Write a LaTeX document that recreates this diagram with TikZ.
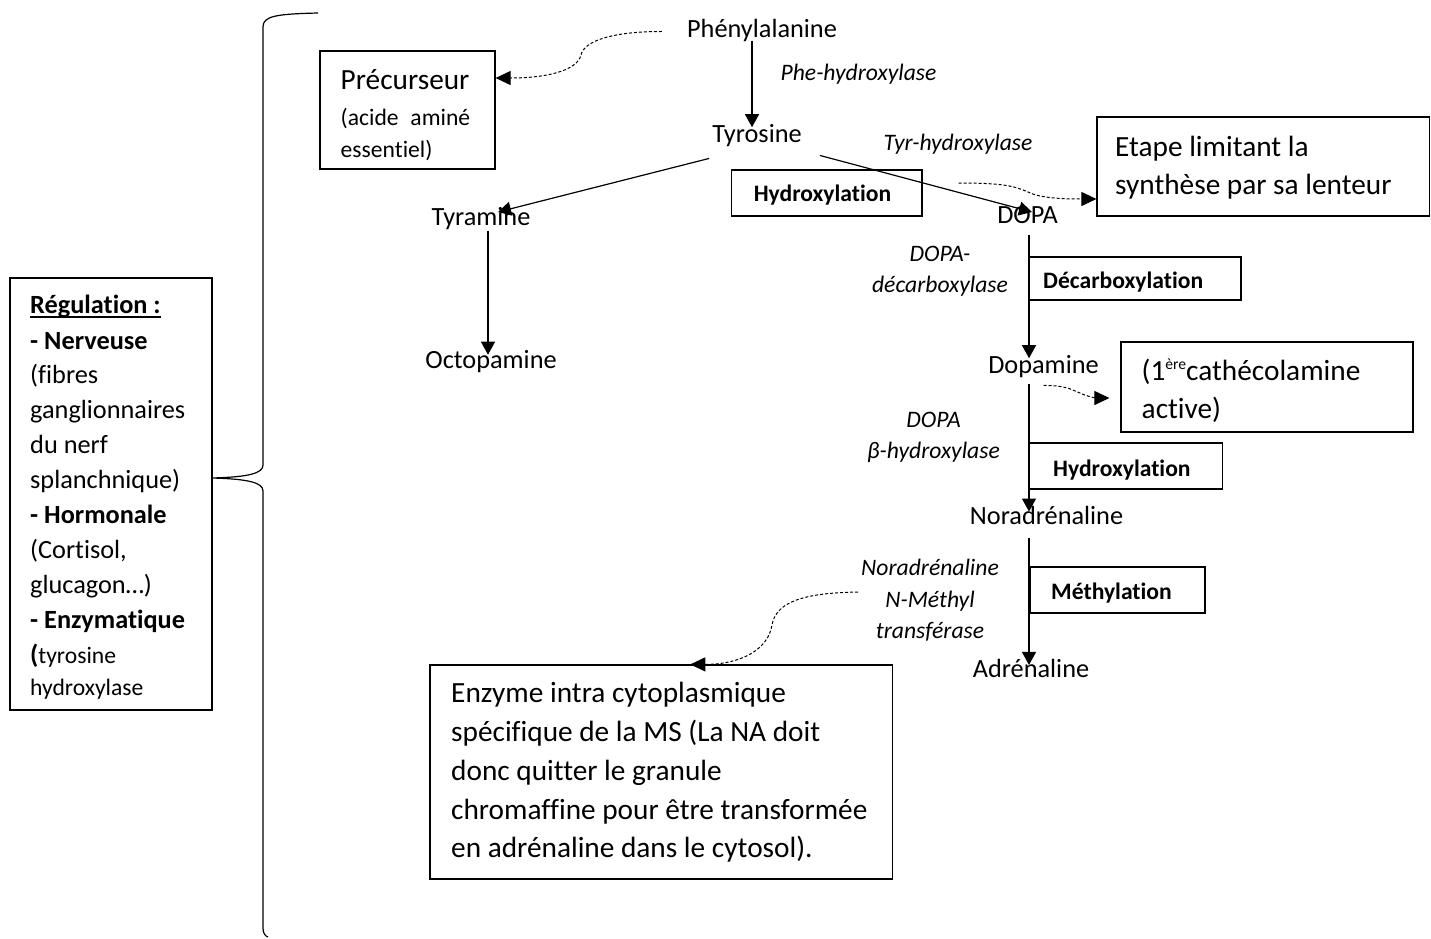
\documentclass[tikz,border=0pt]{standalone}
\usepackage{fontspec}
\setmainfont{Carlito}[Ligatures=NoCommon]
\usetikzlibrary{arrows.meta}

% type sizes
\newcommand\szmain{\fontsize{26.3}{35}\selectfont}
\newcommand\szbig{\fontsize{29.3}{38.7}\selectfont}
\newcommand\szsmall{\fontsize{23.6}{31}\selectfont}
% underlined heading
\newcommand\ulinetxt[1]{\setbox0\hbox{#1}\rlap{\rule[-4.5pt]{\wd0}{1.3pt}}\box0}
% small raised ordinal
\newcommand\ordsup[1]{\raisebox{11pt}{\fontsize{15.6}{16}\selectfont #1}}

\begin{document}
\begin{tikzpicture}[x=1pt,y=-1pt,
  txt/.style={inner sep=0pt, font=\szmain, anchor=base},
  enzlbl/.style={inner sep=0pt, font=\szsmall\itshape, anchor=base},
  steplbl/.style={inner sep=0pt, font=\szsmall\bfseries, anchor=base west},
  boxtxt/.style={inner sep=0pt, anchor=base west},
  box/.style={draw, line width=1.2pt, inner sep=0pt},
  arr/.style={line width=1.2pt, -{Triangle[length=13pt,width=14pt]}},
  darr/.style={line width=1pt, dash pattern=on 3pt off 2pt, -{Triangle[length=15pt,width=14pt]}}]
\useasboundingbox[fill=white] (0,0) rectangle (1431,938);

% ---- compounds of the pathway ----
\node[txt] (phe)   at (762,37)    {Phénylalanine};
\node[txt] (tyr)   at (757,142)   {Tyrosine};
\node[txt] (tyra)  at (481,225)   {Tyramine};
\node[txt] (octo)  at (491,368)   {Octopamine};
\node[txt] (dopa)  at (1027.5,223){DOPA};
\node[txt] (dopam) at (1043.5,373){Dopamine};
\node[txt] (nora)  at (1046.5,524){Noradrénaline};
\node[txt] (adr)   at (1031,677)  {Adrénaline};

% ---- enzymes ----
\node[enzlbl] (phehyd) at (858.5,80) {Phe-hydroxylase};
\node[enzlbl] (tyrhyd) at (958,150)  {Tyr-hydroxylase};
\node[enzlbl] (ddc1)   at (940,261)  {DOPA-};
\node[enzlbl] (ddc2)   at (940,292)  {décarboxylase};
\node[enzlbl] (dbh1)   at (933.5,427){DOPA};
\node[enzlbl] (dbh2)   at (933.5,458){β-hydroxylase};
\node[enzlbl] (pnmt1)  at (930,575)  {Noradrénaline};
\node[enzlbl] (pnmt2)  at (930,607)  {N-Méthyl};
\node[enzlbl] (pnmt3)  at (930,638)  {transférase};

% ---- reaction types ----
\node[box, minimum width=190.5pt, minimum height=46pt] (hyd1) at (826.75,193) {};
\node[steplbl] (hyd1t) at (753.6,201.7) {Hydroxylation};
\node[box, minimum width=212pt, minimum height=43pt] (decb) at (1135,278.5) {};
\node[steplbl] (decbt) at (1043,288) {Décarboxylation};
\node[box, minimum width=193.6pt, minimum height=46pt] (hyd2) at (1125.8,466) {};
\node[steplbl] (hyd2t) at (1053,476) {Hydroxylation};
\node[box, minimum width=175pt, minimum height=46pt] (meth) at (1117.5,590) {};
\node[steplbl] (metht) at (1051,599) {Méthylation};

% ---- comment boxes ----
\node[box, minimum width=175pt, minimum height=118pt] (prec) at (407.5,110) {};
\node[boxtxt, font=\szbig]   (prec1) at (340.5,89)  {Précurseur};
\node[boxtxt, font=\szsmall] (prec2) at (340.5,125) {\makebox[129.5pt][s]{(acide aminé}};
\node[boxtxt, font=\szsmall] (prec3) at (340.5,157) {essentiel)};

\node[box, minimum width=332.5pt, minimum height=99pt] (etape) at (1263.25,166.5) {};
\node[boxtxt, font=\szbig] (etape1) at (1115,156) {Etape limitant la};
\node[boxtxt, font=\szbig] (etape2) at (1115,194) {synthèse par sa lenteur};

\node[box, minimum width=292pt, minimum height=90pt] (cath) at (1267,387) {};
\node[boxtxt, font=\szbig] (cath1) at (1141.5,380) {(1\ordsup{ère}cathécolamine};
\node[boxtxt, font=\szbig] (cath2) at (1141.5,418) {active)};

\node[box, minimum width=462.5pt, minimum height=214pt] (enz) at (661.25,772) {};
\foreach \yy/\linetxt [count=\i] in {
    702.7/{Enzyme intra cytoplasmique},
    741.5/{spécifique de la MS (La NA doit},
    780.2/{donc quitter le granule},
    819/{chromaffine pour être transformée},
    857.7/{en adrénaline dans le cytosol).}}
  \node[boxtxt, font=\szbig] (enz\i) at (451,\yy) {\linetxt};

\node[box, minimum width=202pt, minimum height=432pt] (reg) at (111,494) {};
\foreach \yy/\linetxt [count=\i] in {
    313/{\ulinetxt{\textbf{Régulation :}}},
    349/{\textbf{- Nerveuse}},
    383/{(fibres},
    418/{ganglionnaires},
    453/{du nerf},
    488/{splanchnique)},
    523/{\textbf{- Hormonale}},
    558/{(Cortisol,},
    593/{glucagon…)},
    628/{\textbf{- Enzymatique}},
    663/{\textbf{(}{\szsmall tyrosine}},
    695/{{\szsmall hydroxylase}}}
  \node[boxtxt, font=\szmain] (reg\i) at (30,\yy) {\linetxt};

% ---- brace gathering the whole pathway ----
\draw[line width=1.2pt] (318,13) .. controls (276,14) and (263,16) .. (263,27)
  -- (263,465) .. controls (263,473) and (250,477) .. (212,478)
  .. controls (250,479) and (263,483) .. (263,491)
  -- (263,928) .. controls (263,933) and (265,936) .. (268,937);

% ---- reactions ----
\draw[arr] ([xshift=-10pt]phe.south) -- ([xshift=-5pt,yshift=-3.5pt]tyr.north);
\draw[arr] ([xshift=-3pt,yshift=-12pt]tyr.south west) -- ([xshift=17pt,yshift=13pt]tyra.base);
\draw[arr] ([xshift=18pt,yshift=-9pt]tyr.south east) -- ([xshift=4.5pt,yshift=11pt]dopa.base);
\draw[arr] ([xshift=7pt,yshift=-2pt]tyra.south) -- ([xshift=-3pt,yshift=-5pt]octo.north);
\draw[arr] ([xshift=1.5pt,yshift=-12pt]dopa.south) -- ([xshift=-14.5pt,yshift=-3.5pt]dopam.north);
\draw[arr] ([xshift=-14.5pt,yshift=-7pt]dopam.south) -- ([xshift=-17.5pt,yshift=-6pt]nora.north);
\draw[arr] ([xshift=-17.5pt,yshift=-14pt]nora.south) -- ([xshift=-2pt,yshift=-6.4pt]adr.north);

% ---- remarks ----
\coordinate (m1) at (581,55);
\draw[darr] ([xshift=-25pt,yshift=-1.5pt]phe.west) .. controls +(-50,0) and +(3,-14) .. (m1)
  .. controls +(-4,16) and +(50,0) .. ([yshift=32pt]prec.east);
\coordinate (m2) at (1028,192);
\draw[darr] ([xshift=36pt,yshift=10pt]hyd1.east) .. controls +(45,0) and +(-14,-6) .. (m2)
  .. controls +(12,6) and +(-35,0) .. ([yshift=-32.5pt]etape.west);
\coordinate (m3) at (1080,393);
\draw[darr] ([yshift=-8pt]dopam.south) .. controls +(22,0) and +(-10,-4) .. (m3)
  .. controls +(8,4) and +(-12,0) .. ([xshift=-11pt,yshift=-11pt]cath.west);
\coordinate (ns) at (858,592);
\coordinate (m4) at (772,625);
\draw[darr] (ns) .. controls +(-58,1) and +(4,-22) .. (m4)
  .. controls +(-4,25) and +(50,0) .. ([xshift=29pt]enz.north);
\end{tikzpicture}
\end{document}
